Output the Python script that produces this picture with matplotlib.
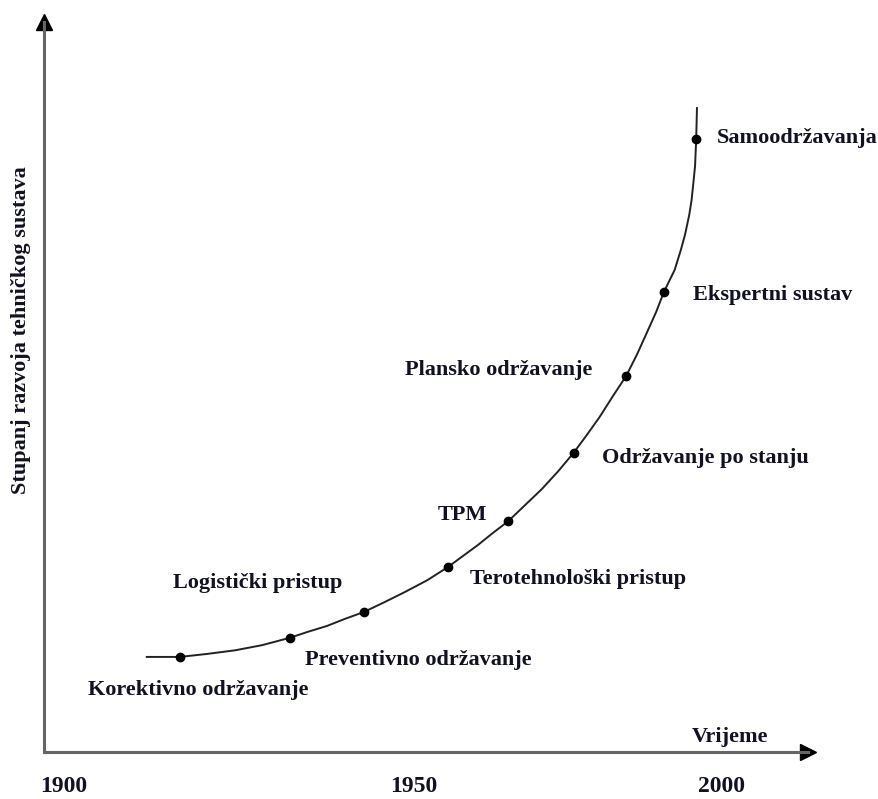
import matplotlib
matplotlib.use("Agg")
import matplotlib.pyplot as plt

# Schematic time axis (arbitrary units 0..100) and development level (0..100)
curve_x = [13.2, 17.6, 21.1, 24.8, 28.3, 31.9, 34.2, 36.7, 39.0, 41.5, 44.2,
           46.8, 49.7, 52.4, 54.35, 56.3, 58.2, 60.2, 62.4, 64.6, 66.7, 68.7,
           70.4, 72.1, 73.8, 75.5, 76.9, 78.2, 79.4, 80.4, 81.8, 82.6, 83.15,
           83.7, 84.0, 84.2, 84.45, 84.6, 84.7]
curve_y = [12.9, 12.9, 13.3, 13.8, 14.5, 15.5, 16.3, 17.1, 18.05, 19.0, 20.35,
           21.7, 23.3, 25.1, 26.6, 28.1, 29.7, 31.3, 33.5, 35.7, 38.1, 40.6,
           43.0, 45.5, 48.3, 51.0, 53.9, 56.9, 59.7, 62.4, 65.4, 68.1, 70.2,
           72.9, 74.9, 76.9, 79.5, 83.2, 87.5]

milestones = ["Korektivno održavanje", "Preventivno održavanje", "Logistički pristup",
              "Terotehnološki pristup", "TPM", "Održavanje po stanju",
              "Plansko održavanje", "Ekspertni sustav", "Samoodržavanja"]
milestone_x = [17.6, 31.9, 41.5, 52.4, 60.2, 68.7, 75.5, 80.4, 84.6]
milestone_y = [12.9, 15.5, 19.0, 25.1, 31.3, 40.6, 51.0, 62.4, 83.2]
label_x = [5.7, 33.9, 16.7, 55.2, 51.1, 72.4, 46.8, 84.2, 87.3]
label_y = [8.4, 12.5, 22.9, 23.5, 32.2, 39.9, 51.8, 62.0, 83.3]

tick_pos = [2.5, 48.0, 87.9]
tick_labels = ["1900", "1950", "2000"]

x_title = "Vrijeme"
y_title = "Stupanj razvoja tehničkog sustava"

FONT = "Liberation Serif"
TXT = "#111122"
W, H = 879, 799
fig = plt.figure(figsize=(W / 100, H / 100), dpi=100)
left, right, bottom, top = 44, 808, 752, 22
ax = fig.add_axes([left / W, 1 - bottom / H, (right - left) / W, (bottom - top) / H])
ax.set_xlim(0, 99.1)
ax.set_ylim(0, 99.05)

for s in ("top", "right"):
    ax.spines[s].set_visible(False)
for s in ("left", "bottom"):
    ax.spines[s].set_color("#666666")
    ax.spines[s].set_linewidth(2.2)

ax.plot(1, 0, ">", color="black", markersize=11, transform=ax.transAxes, clip_on=False)
ax.plot(0, 1, "^", color="black", markersize=11, transform=ax.transAxes, clip_on=False)

ax.plot(curve_x, curve_y, color="#222222", linewidth=1.4,
        solid_capstyle="butt", solid_joinstyle="round", antialiased=True)
ax.plot(milestone_x, milestone_y, "o", color="black", markersize=6)

for name, lx, ly in zip(milestones, label_x, label_y):
    ax.text(lx, ly, name, ha="left", va="center", fontsize=16,
            fontweight="bold", family=FONT, color=TXT)

ax.set_xticks(tick_pos, tick_labels)
ax.tick_params(axis="x", length=0, pad=17)
for t in ax.get_xticklabels():
    t.set_fontfamily(FONT)
    t.set_fontweight("bold")
    t.set_fontsize(17)
    t.set_color(TXT)
ax.set_yticks([])

ax.text(84.0, 2.0, x_title, ha="left", va="center", fontsize=16,
        fontweight="bold", family=FONT, color=TXT)
ax.set_ylabel(y_title, fontsize=16, fontweight="bold", family=FONT, color=TXT)
ax.yaxis.set_label_coords(-0.017, 0.578)

fig.savefig("out.png", dpi=100)
